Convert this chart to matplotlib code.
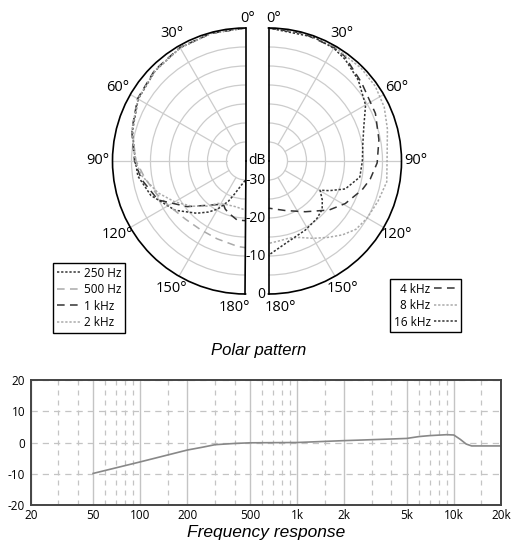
import numpy as np
import matplotlib
matplotlib.use('Agg')
import matplotlib.pyplot as plt
import matplotlib.transforms as mtransforms

plt.rcParams['font.family'] = ['Open Sans', 'DejaVu Sans']
plt.rcParams['axes.unicode_minus'] = False

# Polar pattern, left half (angle in degrees, level in dB)
ang_250 = [0, 15, 30, 45, 60, 75, 90, 98, 110, 125, 137, 144, 150, 157, 162, 170, 180]
db_250 = [0, -0.2, -0.6, -1.4, -2.4, -4.2, -6, -6.4, -8.5, -12.4, -16.2, -18.4, -20.4, -23.5, -26, -28.5, -30]
ang_500 = [0, 15, 30, 45, 60, 75, 90, 100, 110, 120, 134, 147, 160, 175, 180]
db_500 = [0, -0.2, -0.6, -1.3, -2.3, -4.1, -6.2, -8.2, -10, -11.6, -13, -13.4, -13.2, -12.4, -12.2]
ang_1k = [0, 15, 30, 45, 60, 75, 90, 100, 114, 128, 140, 148, 153, 157, 162, 172, 180]
db_1k = [0, -0.2, -0.5, -1.2, -2.2, -4, -5.8, -7.2, -9.8, -15.5, -19.8, -21.5, -22.2, -21.3, -20.6, -19.3, -19.3]
ang_2k = [0, 15, 30, 45, 60, 75, 90, 98, 110, 120, 130, 140, 147, 157, 167, 180]
db_2k = [0, -0.2, -0.6, -1.3, -2.3, -4, -6, -7.4, -10.5, -13.5, -16.5, -19.5, -21.7, -22.5, -22.7, -22.1]

# Polar pattern, right half
ang_4k = [0, 15, 30, 36, 50, 66, 79, 91, 100, 107, 119, 129, 144, 161, 180]
db_4k = [0, -0.2, -0.5, -0.9, -3, -4.2, -5.4, -6.4, -7.8, -9.2, -11.9, -14.5, -18.5, -21.2, -22.6]
ang_8k = [0, 15, 30, 45, 55, 65, 75, 90, 100, 110, 120, 128, 135, 142, 150, 158, 165, 172, 180]
db_8k = [0, -0.1, -0.3, -0.5, -0.7, -1.4, -2.6, -3.8, -3.4, -4.3, -5.0, -5.8, -7.5, -9.5, -11.5, -13.3, -14, -13.8, -13.3]
ang_16k = [0, 20, 30, 37, 48, 60, 70, 80, 90, 100, 110, 116, 119.5, 126, 132, 140, 152, 168, 180]
db_16k = [0, -0.3, -0.7, -1.5, -3.2, -5.5, -8.3, -9.8, -10.3, -10.6, -13.5, -17.2, -19.4, -17.5, -16, -15.2, -14.4, -12.9, -10.2]

# Frequency response
freq = [50, 100, 200, 250, 300, 400, 500, 1000, 2000, 3000, 5000, 6000, 7000, 9000, 10000, 11000, 12000, 13000, 20000]
resp = [-9.9, -6.2, -2.4, -1.5, -0.7, -0.3, -0.1, 0, 0.6, 0.9, 1.3, 1.9, 2.2, 2.5, 2.4, 1.0, -0.5, -1.1, -1.1]
freq_ticks = [20, 50, 100, 200, 500, 1000, 2000, 5000, 10000, 20000]
freq_labels = ['20', '50', '100', '200', '500', '1k', '2k', '5k', '10k', '20k']
freq_minor = [30, 40, 60, 70, 80, 90, 150, 300, 400, 600, 700, 800, 900, 1500,
              3000, 4000, 6000, 7000, 8000, 9000, 15000]

DARK = '#333333'
LIGHT = '#aaaaaa'
dot = (0, (1.5, 1.2))
dash = (0, (5, 3.5))

W, H = 512, 549
fig = plt.figure(figsize=(W / 100, H / 100), dpi=100)


def half_polar(x_mid, direction):
    # square box 2R x 2R; the half disc is centred in it
    R = 133
    ax = fig.add_axes([(x_mid - R) / W, 1 - 294 / H, 2 * R / W, 2 * R / H],
                      projection='polar')
    ax.set_theta_zero_location('N')
    ax.set_theta_direction(direction)
    ax.set_thetamin(0)
    ax.set_thetamax(180)
    for a in (30, 60, 90, 120, 150):
        ax.plot([np.radians(a)] * 2, [-30, 0], color='#cccccc', lw=0.9, zorder=1)
    ax.set_ylim(-35, 0)
    ax.set_yticks([-30, -25, -20, -15, -10, -5])
    ax.set_yticklabels([])
    ax.yaxis.grid(True, color='#cccccc', lw=0.9)
    ax.set_xticks(np.radians(np.arange(30, 151, 30)))
    ax.set_xticklabels(['%d°' % a for a in range(30, 151, 30)])
    ax.xaxis.grid(False)
    ax.tick_params(axis='x', labelsize=10.5, pad=0)
    for sp in ax.spines.values():
        sp.set_color('black')
        sp.set_linewidth(1.2)
    return ax


axL = half_polar((112.5 + 245.5) / 2, 1)
axR = half_polar((268.3 + 401.7) / 2, -1)

l1, = axL.plot(np.radians(ang_250), db_250, color=DARK, lw=1.1, ls=dot)
l2, = axL.plot(np.radians(ang_500), db_500, color=LIGHT, lw=1.1, ls=dash)
l3, = axL.plot(np.radians(ang_1k), db_1k, color=DARK, lw=1.1, ls=dash)
l4, = axL.plot(np.radians(ang_2k), db_2k, color=LIGHT, lw=1.1, ls=dot)
r1, = axR.plot(np.radians(ang_4k), db_4k, color=DARK, lw=1.1, ls=dash)
r2, = axR.plot(np.radians(ang_8k), db_8k, color=LIGHT, lw=1.1, ls=dot)
r3, = axR.plot(np.radians(ang_16k), db_16k, color=DARK, lw=1.1, ls=dot)
for ax in (axL, axR):
    ax.set_ylim(-35, 0)

# 0° / 180° labels beside the straight edges
def edge_label(ax, theta, text, dx, dy, ha, va):
    tr = mtransforms.offset_copy(ax.transData, fig=fig, x=dx, y=dy, units='dots')
    ax.text(theta, 0, text, transform=tr, ha=ha, va=va, fontsize=10.5, clip_on=False)

edge_label(axL, 0, '0°', 2, 2, 'center', 'bottom')
edge_label(axL, np.pi, '180°', 5, -6, 'right', 'top')
edge_label(axR, 0, '0°', -2, 2, 'left', 'bottom')
edge_label(axR, np.pi, '180°', -4, -6, 'left', 'top')

# dB scale between the halves
off = mtransforms.offset_copy(axR.transData, fig=fig, x=-3, y=0, units='dots')
for v in (-30, -20, -10, 0):
    axR.text(np.pi, v, str(v), transform=off, ha='right', va='center', fontsize=10)
axR.text(np.pi, -35, 'dB', transform=off, ha='right', va='center', fontsize=10)

legL = fig.legend([l1, l2, l3, l4], ['250 Hz', '500 Hz', '1 kHz', '2 kHz'],
                  loc='upper left', bbox_to_anchor=(53 / W, 1 - 263 / H),
                  fontsize=8.5, handlelength=2.0, handletextpad=0.3,
                  labelspacing=0.3, borderpad=0.3, borderaxespad=0,
                  fancybox=False, framealpha=1, edgecolor='black')
legL.get_frame().set_linewidth(1.0)
legR = fig.legend([r1, r2, r3], ['4 kHz', '8 kHz', '16 kHz'],
                  loc='upper left', bbox_to_anchor=(390 / W, 1 - 279 / H),
                  fontsize=8.5, handlelength=2.0, handletextpad=0.3,
                  labelspacing=0.3, borderpad=0.3, borderaxespad=0,
                  markerfirst=False, fancybox=False, framealpha=1, edgecolor='black')
legR.get_frame().set_linewidth(1.0)

fig.text(259 / W, 1 - 350 / H, 'Polar pattern', ha='center', va='center',
         fontsize=12, style='italic', family=['Liberation Sans', 'DejaVu Sans'])

# Frequency response
axF = fig.add_axes([30.7 / W, 1 - 505 / H, 470.3 / W, 125 / H])
axF.set_xscale('log')
axF.set_xlim(20, 20000)
axF.set_ylim(-20, 20)
axF.set_xticks(freq_ticks)
axF.set_xticklabels(freq_labels)
axF.set_xticks(freq_minor, minor=True)
axF.set_xticklabels([], minor=True)
axF.set_yticks([-20, -10, 0, 10, 20])
axF.grid(which='major', axis='x', color='#c4c4c4', lw=1.0)
axF.grid(which='minor', axis='x', color='#c4c4c4', lw=0.9, ls=(0, (4, 4)))
axF.grid(which='major', axis='y', color='#c4c4c4', lw=0.9, ls=(0, (5, 4)))
axF.tick_params(which='both', length=0, labelsize=8.5)
axF.tick_params(axis='y', pad=4)
axF.tick_params(axis='x', pad=3)
for sp in axF.spines.values():
    sp.set_color('#444444')
    sp.set_linewidth(1.4)
axF.plot(freq, resp, color='#888888', lw=1.2)

fig.text(266 / W, 1 - 533 / H, 'Frequency response', ha='center', va='center',
         fontsize=12.5, style='italic', family=['Liberation Sans', 'DejaVu Sans'])

fig.savefig('out.png', dpi=100)
